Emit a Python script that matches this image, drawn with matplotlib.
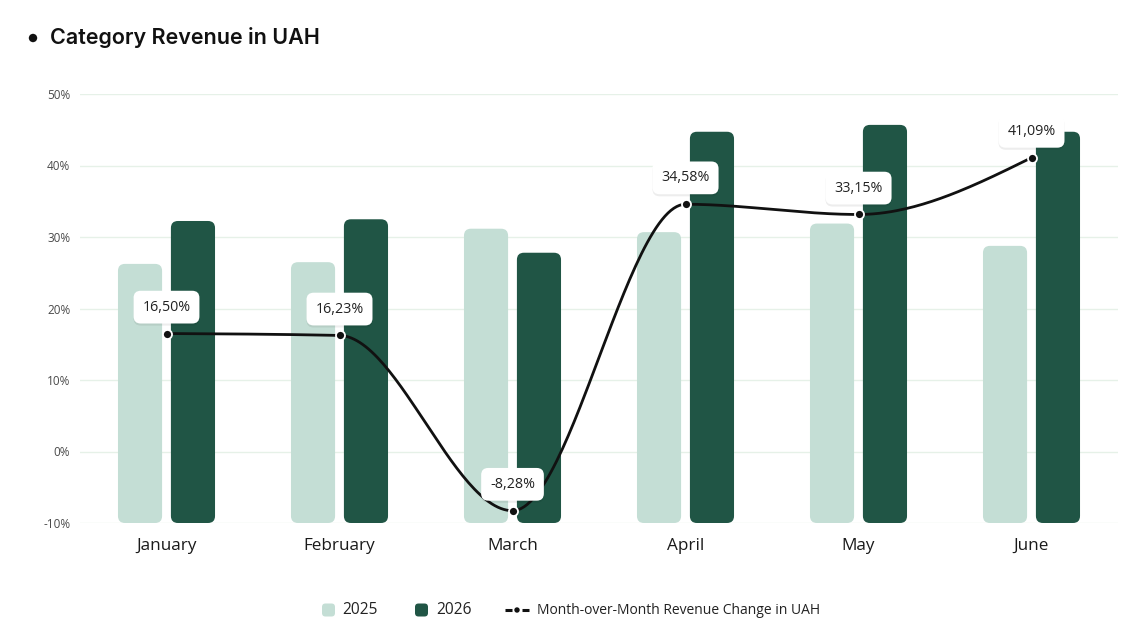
import numpy as np
import matplotlib
matplotlib.use("Agg")
import matplotlib.pyplot as plt
from matplotlib.patches import FancyBboxPatch, Circle
import matplotlib.patheffects as pe

# ---- data ----
months = ["January", "February", "March", "April", "May", "June"]
rev_2025 = [3.02, 3.04, 3.43, 3.39, 3.49, 3.23]   # revenue, mln UAH
rev_2026 = [3.52, 3.54, 3.15, 4.56, 4.64, 4.56]
mom_change = [16.50, 16.23, -8.28, 34.58, 33.15, 41.09]
mom_labels = ["16,50%", "16,23%", "-8,28%", "34,58%", "33,15%", "41,09%"]
pct_ticks = [-10, 0, 10, 20, 30, 40, 50]
legend_labels = ["2025", "2026", "Month-over-Month Revenue Change in UAH"]
title = "Category Revenue in UAH"

C_LIGHT = "#c4ded5"
C_DARK = "#205545"
C_LINE = "#111111"
C_GRID = "#e6f1e8"

FONT = ["Open Sans", "DejaVu Sans"]
plt.rcParams["font.family"] = FONT

W, H = 1148, 623
fig = plt.figure(figsize=(W / 100, H / 100), dpi=100)
left, right, top, bottom = 80, 1118, 94, 523
pos = [left / W, 1 - bottom / H, (right - left) / W, (bottom - top) / H]

ax = fig.add_axes(pos)
axb = ax.twinx()
axl = ax.twinx()

x = np.arange(len(months))
ax.set_xlim(-0.5, len(months) - 0.5)
ax.set_ylim(-10, 50)
axl.set_ylim(-10, 50)
axb.set_ylim(0, 5)

# grid + ticks on the base axis
ax.set_yticks(pct_ticks)
ax.set_yticklabels([f"{t}%" for t in pct_ticks], fontsize=8.5, color="#4a4a4a")
for t in pct_ticks:
    ax.axhline(t, color=C_GRID, lw=1.0, zorder=0)
ax.set_xticks(x)
ax.set_xticklabels(months, fontsize=12.3, color="#1a1a1a")
ax.tick_params(axis="both", length=0)
ax.tick_params(axis="y", pad=7)
ax.tick_params(axis="x", pad=11)
for a in (ax, axb, axl):
    for s in a.spines.values():
        s.set_visible(False)
axb.set_yticks([])
axl.set_yticks([])

# ---- rounded bars ----
bw = 0.255
off = 0.153
px_per_x = (right - left) / (len(months))
px_per_yb = (bottom - top) / 5.0
aspect = (1 / px_per_yb) / (1 / px_per_x)
rad = 7.0 / px_per_x
for vals, dx, col in [(rev_2025, -off, C_LIGHT), (rev_2026, off, C_DARK)]:
    for xi, v in zip(x, vals):
        p = FancyBboxPatch((xi + dx - bw / 2, 0), bw, v,
                           boxstyle=f"round,pad=0,rounding_size={rad}",
                           mutation_aspect=aspect, fc=col, ec="none", zorder=2)
        axb.add_patch(p)

# ---- monotone cubic line (d3 monotoneX) ----
def monotone(xs, ys, n=60):
    xs = np.asarray(xs, float); ys = np.asarray(ys, float)
    h = np.diff(xs); s = np.diff(ys) / h
    m = np.zeros_like(ys)
    for i in range(1, len(xs) - 1):
        s0, s1 = s[i - 1], s[i]
        p = (s0 * h[i] + s1 * h[i - 1]) / (h[i - 1] + h[i])
        m[i] = (np.sign(s0) + np.sign(s1)) * min(abs(s0), abs(s1), 0.5 * abs(p))
    m[0] = (3 * s[0] - m[1]) / 2
    m[-1] = (3 * s[-1] - m[-2]) / 2
    X, Y = [], []
    for i in range(len(xs) - 1):
        t = np.linspace(0, 1, n)
        h00 = 2 * t**3 - 3 * t**2 + 1
        h10 = t**3 - 2 * t**2 + t
        h01 = -2 * t**3 + 3 * t**2
        h11 = t**3 - t**2
        X.append(xs[i] + t * h[i])
        Y.append(h00 * ys[i] + h10 * h[i] * m[i] + h01 * ys[i + 1] + h11 * h[i] * m[i + 1])
    return np.concatenate(X), np.concatenate(Y)

lx, ly = monotone(x, mom_change)
axl.plot(lx, ly, color=C_LINE, lw=2.0, zorder=3, solid_capstyle="round")
axl.plot(x, mom_change, "o", ms=6.5, mfc=C_LINE, mec="white", mew=1.3, zorder=4)

for xi, v, lab in zip(x, mom_change, mom_labels):
    t = axl.annotate(lab, (xi, v), xytext=(0, 19), textcoords="offset points",
                     ha="center", va="center", fontsize=10.3, color="#222222", zorder=5,
                     bbox=dict(boxstyle="round,pad=0.62,rounding_size=0.5", fc="white", ec="none"))
    t.get_bbox_patch().set_path_effects([
        pe.SimplePatchShadow(offset=(0, -1.5), shadow_rgbFace="#000000", alpha=0.07),
        pe.Normal()])

# ---- overlay in pixel coordinates for title and legend ----
ov = fig.add_axes([0, 0, 1, 1], facecolor="none")
ov.set_xlim(0, W)
ov.set_ylim(H, 0)
ov.axis("off")

ov.add_patch(Circle((33, 38), 4.2, fc="#111111", ec="none"))
ov.text(50, 38, title, fontsize=15.5, fontweight="semibold", ha="left",
        va="center", color="#111111", family=["Inter", "DejaVu Sans"])

ly0 = 610
ov.add_patch(FancyBboxPatch((322, ly0 - 6.5), 13, 13, boxstyle="round,pad=0,rounding_size=3.5",
                            fc=C_LIGHT, ec="none"))
ov.text(342, ly0, legend_labels[0], fontsize=11.2, ha="left", va="center", color="#222222")
ov.add_patch(FancyBboxPatch((415, ly0 - 6.5), 13, 13, boxstyle="round,pad=0,rounding_size=3.5",
                            fc=C_DARK, ec="none"))
ov.text(436, ly0, legend_labels[1], fontsize=11.2, ha="left", va="center", color="#222222")
ov.plot([505, 512], [ly0, ly0], color=C_LINE, lw=2.2, solid_capstyle="butt")
ov.plot([522, 529], [ly0, ly0], color=C_LINE, lw=2.2, solid_capstyle="butt")
ov.add_patch(Circle((517, ly0), 2.7, fc=C_LINE, ec="none"))
ov.text(537, ly0, legend_labels[2], fontsize=10.0, ha="left", va="center", color="#222222")

fig.savefig("out.png", dpi=100)
